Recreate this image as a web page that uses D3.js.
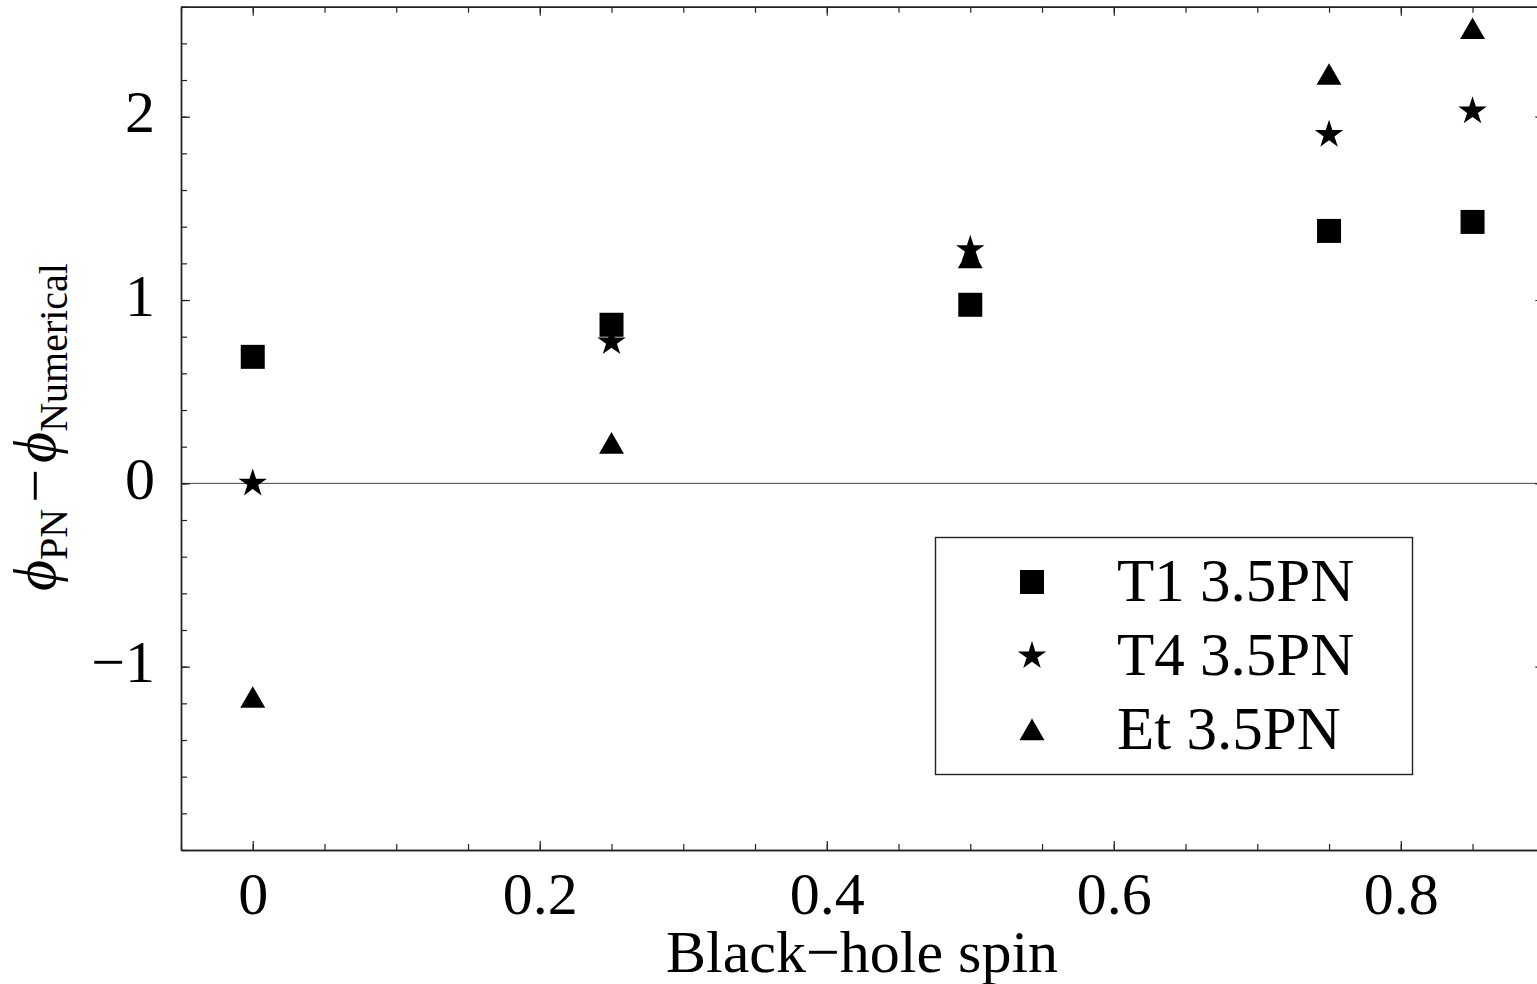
<!DOCTYPE html>
<html>
<head>
<meta charset="utf-8">
<script src="https://cdn.jsdelivr.net/npm/d3@7"></script>
<style>
  body { margin: 0; background: white; }
  text { font-family: "Liberation Serif", "Times New Roman", serif; }
</style>
</head>
<body>
<div id="chart"></div>
<script>
// spin values
const spins = [0, 0.25, 0.5, 0.75, 0.85];

// phase differences
const t1Values = [0.69, 0.865, 0.974, 1.377, 1.426];
const t4Values = [0.0, 0.771, 1.274, 1.902, 2.03];
const etValues = [-1.185, 0.201, 1.212, 2.213, 2.463];

const seriesNames = ["T1 3.5PN", "T4 3.5PN", "Et 3.5PN"];

const xTicks = [0, 0.2, 0.4, 0.6, 0.8];
const xTickLabels = ["0", "0.2", "0.4", "0.6", "0.8"];
const yTicks = [-1, 0, 1, 2];
const yTickLabels = ["\u22121", "0", "1", "2"];

const width = 1537, height = 984;
const margin = {top: 6.7, bottom: 134, left: 181, right: -7.3};

const svg = d3.select("#chart")
    .append("svg")
    .attr("width", width)
    .attr("height", height)
    .style("background", "white");

const x = d3.scaleLinear()
    .domain([-0.05, 0.9])
    .range([margin.left, width - margin.right]);
const y = d3.scaleLinear()
    .domain([-2, 2.6])
    .range([height - margin.bottom, margin.top]);

const xMinor = d3.range(-0.05, 0.9001, 0.05).map(d => +d.toFixed(2));
const yMinor = d3.range(-2, 2.6001, 0.2).map(d => +d.toFixed(1));

// zero line
svg.append("line")
    .attr("x1", x(-0.05))
    .attr("x2", x(0.9))
    .attr("y1", y(0))
    .attr("y2", y(0))
    .attr("stroke", "#444")
    .attr("stroke-width", 1);

// axes: minor ticks first, then the major ones with labels
function frameAxis(axisFn, scale, pos, transform, minor, major, labels) {
    svg.append("g")
        .attr("transform", transform)
        .call(axisFn(scale).tickValues(minor).tickSize(-6).tickSizeOuter(0).tickFormat(""));
    const g = svg.append("g")
        .attr("transform", transform)
        .call(axisFn(scale).tickValues(major).tickSize(-9).tickSizeOuter(0)
            .tickPadding(pos === "left" ? 26 : 21)
            .tickFormat(labels ? (d, i) => labels[i] : ""));
    return g;
}

frameAxis(d3.axisBottom, x, "bottom", `translate(0,${y(-2)})`, xMinor, xTicks, xTickLabels);
frameAxis(d3.axisTop, x, "top", `translate(0,${y(2.6)})`, xMinor, xTicks, null);
const left = frameAxis(d3.axisLeft, y, "left", `translate(${x(-0.05)},0)`, yMinor, yTicks, yTickLabels);
frameAxis(d3.axisRight, y, "right", `translate(${x(0.9)},0)`, yMinor, yTicks, null);

svg.selectAll(".domain").attr("stroke", "#222").attr("stroke-width", 1.4);
svg.selectAll(".tick line").attr("stroke", "#222").attr("stroke-width", 1.2);
svg.selectAll(".tick text")
    .attr("fill", "black")
    .style("font-size", "60px")
    .style("font-family", "'Liberation Serif', 'Times New Roman', serif");
left.selectAll(".tick text").attr("dy", "0.25em");

// axis titles
svg.append("text")
    .attr("x", 862)
    .attr("y", 972)
    .attr("text-anchor", "middle")
    .style("font-size", "60px")
    .text("Black\u2212hole spin");

const yTitle = svg.append("text")
    .attr("transform", "translate(55,427) rotate(-90)")
    .attr("text-anchor", "middle")
    .style("font-size", "60px");
yTitle.append("tspan").style("font-style", "italic").text("\u03d5");
yTitle.append("tspan").attr("dy", 12).style("font-size", "40px").text("PN");
yTitle.append("tspan").attr("dy", -12).attr("dx", 6).text("\u2212");
yTitle.append("tspan").attr("dx", 6).style("font-style", "italic").text("\u03d5");
yTitle.append("tspan").attr("dy", 12).style("font-size", "40px").text("Numerical");

// markers
const shapes = {
    "T1 3.5PN": d3.symbol().type(d3.symbolSquare).size(576),
    "T4 3.5PN": d3.symbol().type(d3.symbolStar).size(250),
    "Et 3.5PN": d3.symbol().type(d3.symbolTriangle).size(269)
};
const seriesValues = {
    "T1 3.5PN": t1Values,
    "T4 3.5PN": t4Values,
    "Et 3.5PN": etValues
};

// drawn in reverse so squares sit on top
seriesNames.slice().reverse().forEach(name => {
    svg.append("g")
        .selectAll("path")
        .data(spins.map((s, i) => ({s, v: seriesValues[name][i]})))
        .enter()
        .append("path")
        .attr("transform", d => `translate(${x(d.s)},${y(d.v)})`)
        .attr("d", shapes[name]())
        .attr("fill", "black");
});

// legend
const legend = svg.append("g");
legend.append("rect")
    .attr("x", 935.5)
    .attr("y", 537.5)
    .attr("width", 477)
    .attr("height", 237)
    .attr("fill", "white")
    .attr("stroke", "#222")
    .attr("stroke-width", 1.4);
seriesNames.forEach((name, i) => {
    const cy = 582 + i * 74;
    legend.append("path")
        .attr("transform", `translate(1032,${name === "Et 3.5PN" ? cy + 3 : cy})`)
        .attr("d", shapes[name]())
        .attr("fill", "black");
    legend.append("text")
        .attr("x", 1117)
        .attr("y", cy + 19)
        .style("font-size", "61px")
        .text(name);
});
</script>
</body>
</html>
